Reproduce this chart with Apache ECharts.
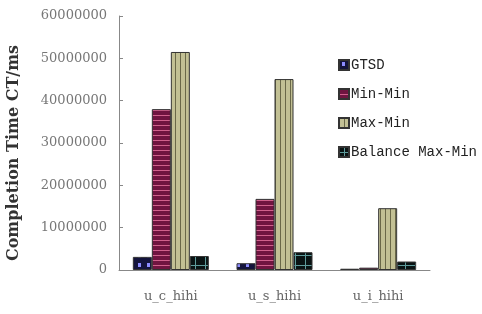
<!DOCTYPE html>
<html>
<head>
<meta charset="utf-8">
<script src="https://cdn.jsdelivr.net/npm/echarts@6/dist/echarts.min.js"></script>
<style>
  html, body { margin: 0; padding: 0; background: #fff; }
  #chart { width: 482px; height: 314px; }
</style>
</head>
<body>
<div id="chart"></div>
<script>
// 数据
var categories = ["u_c_hihi", "u_s_hihi", "u_i_hihi"];
var seriesNames = ["GTSD", "Min-Min", "Max-Min", "Balance Max-Min"];
var gtsd = [3100000, 1600000, 300000];
var minMin = [38000000, 16800000, 550000];
var maxMin = [51500000, 45100000, 14600000];
var balance = [3300000, 4200000, 2000000];
var yTicks = [0, 10000000, 20000000, 30000000, 40000000, 50000000, 60000000];

// 填充图案
function makePattern(w, h, draw) {
  var c = document.createElement("canvas");
  c.width = w;
  c.height = h;
  draw(c.getContext("2d"));
  return { image: c, repeat: "repeat" };
}

var patterns = [
  makePattern(9, 9, function (g) {
    g.fillStyle = "#14143c";
    g.fillRect(0, 0, 9, 9);
    g.fillStyle = "#8c8cff";
    g.fillRect(3, 2, 3, 4);
  }),
  makePattern(5, 5, function (g) {
    g.fillStyle = "#701440";
    g.fillRect(0, 0, 5, 5);
    g.fillStyle = "#d0608c";
    g.fillRect(0, 0, 5, 1);
  }),
  makePattern(5, 5, function (g) {
    g.fillStyle = "#c2c094";
    g.fillRect(0, 0, 5, 5);
    g.fillStyle = "#6a6848";
    g.fillRect(0, 0, 1, 5);
  }),
  makePattern(10, 10, function (g) {
    g.fillStyle = "#0a1414";
    g.fillRect(0, 0, 10, 10);
    g.fillStyle = "#5e9c9c";
    g.fillRect(0, 5, 10, 1);
    g.fillRect(5, 0, 1, 10);
  }),
];

var chart = echarts.init(document.getElementById("chart"));
var values = [gtsd, minMin, maxMin, balance];

var option = {
  animation: false,
  grid: { left: 119, right: 52, top: 16, bottom: 44 },
  legend: {
    orient: "vertical",
    left: 333,
    top: 53,
    itemWidth: 10,
    itemHeight: 10,
    itemGap: 15,
    icon: "rect",
    textStyle: {
      fontFamily: "Liberation Mono",
      fontSize: 14,
      color: "#222",
      padding: [0, 0, 0, -3],
    },
    data: seriesNames,
  },
  graphic: [
    {
      type: "text",
      x: 14,
      y: 153,
      rotation: Math.PI / 2,
      style: {
        text: "Completion Time CT/ms",
        font: "bold 16px 'DejaVu Serif'",
        fill: "#333",
        align: "center",
        verticalAlign: "middle",
      },
    },
  ],
  xAxis: {
    type: "category",
    data: categories,
    axisLine: { lineStyle: { color: "#888" } },
    axisTick: { inside: true, length: 4, lineStyle: { color: "#888" } },
    axisLabel: {
      margin: 20,
      fontFamily: "DejaVu Serif",
      fontSize: 13,
      color: "#666",
    },
  },
  yAxis: {
    type: "value",
    min: yTicks[0],
    max: yTicks[yTicks.length - 1],
    interval: yTicks[1] - yTicks[0],
    splitLine: { show: false },
    axisLine: { show: true, lineStyle: { color: "#888" } },
    axisTick: { show: true, inside: true, length: 4, lineStyle: { color: "#888" } },
    axisLabel: {
      margin: 12,
      fontFamily: "DejaVu Serif",
      fontSize: 13,
      color: "#777",
      formatter: function (v) {
        return String(v);
      },
    },
  },
  series: seriesNames.map(function (name, i) {
    return {
      name: name,
      type: "bar",
      data: values[i],
      barWidth: 19,
      barGap: "0%",
      itemStyle: {
        color: patterns[i],
        borderColor: "#333",
        borderWidth: 1,
      },
    };
  }),
};

chart.setOption(option);
</script>
</body>
</html>
